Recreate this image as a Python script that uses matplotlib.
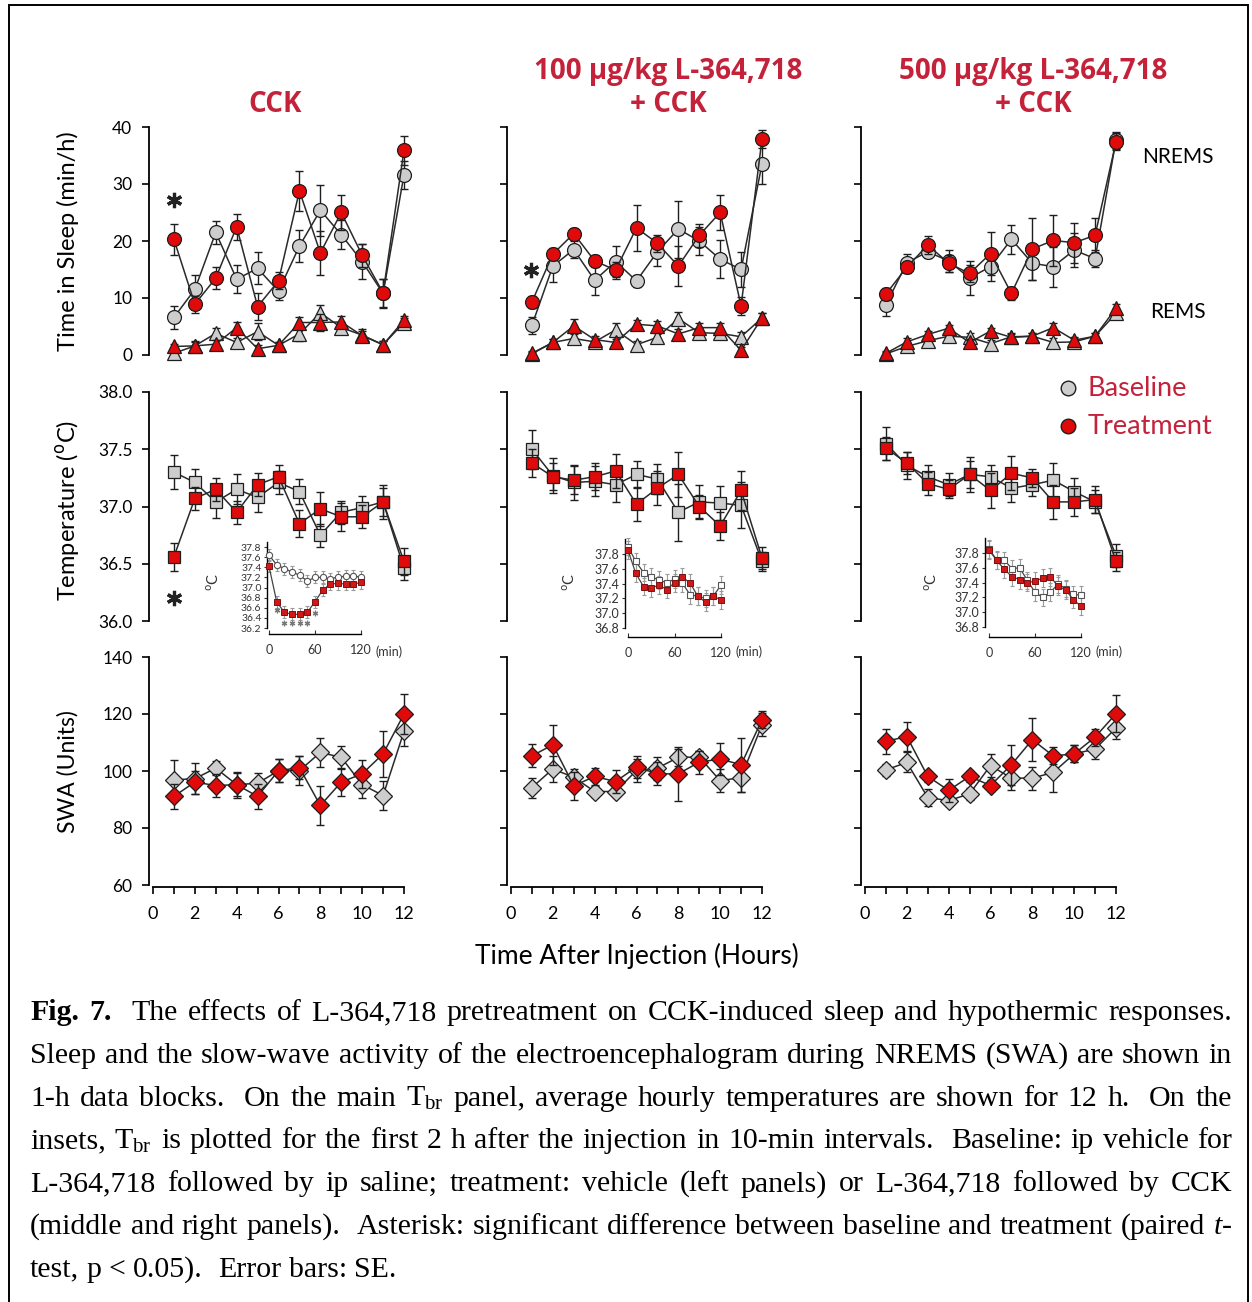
import numpy as np
import matplotlib
matplotlib.use('Agg')
import matplotlib.pyplot as plt
from matplotlib.lines import Line2D
from matplotlib.patches import Rectangle

plt.rcParams['font.family'] = ['Lato', 'DejaVu Sans']
plt.rcParams['mathtext.fontset'] = 'custom'
plt.rcParams['mathtext.rm'] = 'Liberation Serif'
plt.rcParams['mathtext.it'] = 'Liberation Serif:italic'

W, H = 1252, 1302
hours = np.arange(1, 13)
minutes = np.arange(0, 130, 10)

# ---------------- time in sleep (min/h) ----------------
cck_nrem_base = [6.6, 11.5, 21.5, 13.3, 15.2, 11.2, 19.1, 25.4, 21.1, 16.4, 10.8, 31.6]
cck_nrem_base_se = [2.0, 2.5, 2.0, 2.5, 2.8, 1.5, 2.8, 4.5, 2.5, 3.0, 2.5, 2.5]
cck_nrem_trt = [20.3, 8.9, 13.5, 22.5, 8.5, 13.0, 28.8, 17.9, 25.0, 17.5, 10.9, 35.9]
cck_nrem_trt_se = [2.7, 1.5, 2.0, 2.3, 2.3, 1.5, 3.5, 3.8, 3.0, 2.0, 2.5, 2.5]
cck_rem_base = [0.3, 1.6, 3.8, 2.2, 4.1, 1.7, 3.7, 7.4, 4.8, 3.5, 1.8, 5.7]
cck_rem_base_se = [0.5, 0.8, 1.0, 0.8, 1.5, 0.6, 1.2, 1.3, 1.0, 1.0, 0.6, 0.8]
cck_rem_trt = [1.5, 1.6, 1.9, 4.8, 1.1, 1.7, 5.7, 5.7, 5.8, 3.4, 1.8, 6.1]
cck_rem_trt_se = [0.5, 0.6, 0.8, 1.0, 0.6, 0.6, 1.0, 1.5, 1.0, 0.8, 0.6, 0.8]

l100_nrem_base = [5.2, 15.6, 18.5, 13.1, 16.4, 13.0, 18.1, 22.1, 20.0, 16.8, 15.0, 33.5]
l100_nrem_base_se = [1.5, 2.8, 1.5, 2.5, 2.8, 1.0, 2.5, 5.0, 2.5, 3.3, 3.0, 3.5]
l100_nrem_trt = [9.3, 17.7, 21.3, 16.5, 14.9, 22.3, 19.6, 15.6, 21.0, 25.0, 8.6, 37.9]
l100_nrem_trt_se = [1.0, 1.0, 1.0, 1.0, 1.5, 4.0, 1.5, 3.5, 2.0, 3.0, 1.5, 1.5]
l100_rem_base = [0.2, 2.2, 2.9, 2.3, 4.4, 1.8, 3.1, 6.4, 3.9, 3.8, 3.2, 6.5]
l100_rem_base_se = [0.4, 0.6, 0.8, 0.6, 1.2, 0.6, 0.8, 1.2, 0.8, 0.8, 0.8, 0.8]
l100_rem_trt = [0.3, 2.2, 5.1, 2.7, 2.2, 5.4, 5.1, 3.7, 4.8, 4.8, 0.8, 6.5]
l100_rem_trt_se = [0.4, 0.6, 1.2, 0.6, 0.6, 0.8, 0.8, 0.8, 0.8, 0.8, 0.6, 0.8]

l500_nrem_base = [8.8, 16.2, 18.1, 16.5, 13.5, 15.5, 20.3, 16.1, 15.5, 18.4, 16.9, 37.7]
l500_nrem_base_se = [2.0, 1.5, 1.0, 2.0, 3.0, 2.5, 2.5, 3.0, 3.5, 3.0, 1.5, 1.5]
l500_nrem_trt = [10.7, 15.4, 19.3, 16.1, 14.3, 17.8, 10.8, 18.6, 20.1, 19.7, 21.0, 37.4]
l500_nrem_trt_se = [1.0, 1.0, 1.5, 1.5, 1.5, 3.7, 1.2, 5.5, 4.5, 3.5, 3.0, 1.5]
l500_rem_base = [0.2, 1.5, 2.5, 3.3, 3.1, 2.0, 3.2, 3.3, 2.2, 2.3, 3.3, 7.3]
l500_rem_base_se = [0.4, 0.6, 0.6, 0.6, 0.8, 0.6, 0.6, 0.6, 0.8, 0.6, 0.6, 0.8]
l500_rem_trt = [0.3, 2.3, 3.6, 4.7, 2.2, 4.2, 3.1, 3.3, 4.8, 2.6, 3.3, 8.2]
l500_rem_trt_se = [0.4, 0.6, 0.6, 0.6, 0.6, 0.6, 0.6, 0.6, 0.8, 0.6, 0.6, 0.8]

# ---------------- brain temperature (hourly means) ----------------
cck_temp_base = [37.30, 37.21, 37.04, 37.15, 37.08, 37.21, 37.13, 36.75, 36.95, 36.99, 37.04, 36.46]
cck_temp_base_se = [0.15, 0.12, 0.14, 0.13, 0.13, 0.10, 0.11, 0.10, 0.10, 0.10, 0.15, 0.10]
cck_temp_trt = [36.56, 37.07, 37.15, 36.95, 37.19, 37.26, 36.85, 36.98, 36.91, 36.91, 37.04, 36.52]
cck_temp_trt_se = [0.12, 0.10, 0.10, 0.10, 0.10, 0.10, 0.12, 0.15, 0.12, 0.10, 0.12, 0.12]

l100_temp_base = [37.50, 37.27, 37.21, 37.22, 37.19, 37.28, 37.24, 36.95, 37.04, 37.03, 37.01, 36.52]
l100_temp_base_se = [0.17, 0.15, 0.15, 0.13, 0.15, 0.12, 0.13, 0.25, 0.15, 0.15, 0.20, 0.08]
l100_temp_trt = [37.38, 37.26, 37.23, 37.26, 37.31, 37.02, 37.16, 37.28, 37.00, 36.83, 37.14, 36.55]
l100_temp_trt_se = [0.12, 0.12, 0.12, 0.12, 0.15, 0.15, 0.15, 0.20, 0.10, 0.12, 0.17, 0.10]

l500_temp_base = [37.55, 37.36, 37.26, 37.19, 37.28, 37.26, 37.16, 37.19, 37.23, 37.13, 37.04, 36.57]
l500_temp_base_se = [0.14, 0.12, 0.10, 0.10, 0.15, 0.10, 0.12, 0.10, 0.15, 0.12, 0.10, 0.10]
l500_temp_trt = [37.51, 37.38, 37.20, 37.15, 37.28, 37.14, 37.29, 37.25, 37.04, 37.04, 37.06, 36.52]
l500_temp_trt_se = [0.10, 0.10, 0.10, 0.08, 0.12, 0.15, 0.15, 0.08, 0.15, 0.12, 0.12, 0.08]

# ---------------- inset: first 2 h in 10-min blocks ----------------
cck_ins_base = [37.64, 37.45, 37.37, 37.31, 37.24, 37.13, 37.20, 37.20, 37.17, 37.21, 37.22, 37.22, 37.21]
cck_ins_trt = [37.42, 36.72, 36.51, 36.47, 36.47, 36.51, 36.72, 36.95, 37.07, 37.08, 37.07, 37.07, 37.10]
l100_ins_base = [37.90, 37.70, 37.55, 37.49, 37.45, 37.41, 37.46, 37.41, 37.25, 37.23, 37.20, 37.23, 37.38]
l100_ins_trt = [37.85, 37.54, 37.36, 37.34, 37.38, 37.32, 37.41, 37.49, 37.41, 37.23, 37.15, 37.23, 37.18]
l500_ins_base = [37.85, 37.71, 37.70, 37.59, 37.60, 37.43, 37.27, 37.20, 37.27, 37.38, 37.32, 37.24, 37.23]
l500_ins_trt = [37.84, 37.70, 37.58, 37.48, 37.44, 37.40, 37.42, 37.46, 37.48, 37.35, 37.30, 37.17, 37.08]
ins_se = [0.12] * 13
cck_ins_sig = [10, 20, 30, 40, 50, 60]
cck_ins_sig_y = [36.56, 36.30, 36.30, 36.30, 36.30, 36.50]

# ---------------- SWA (units) ----------------
cck_swa_base = [96.9, 97.3, 101.0, 95.2, 95.7, 100.1, 100.1, 106.5, 104.8, 95.2, 91.4, 113.9]
cck_swa_base_se = [7.0, 5.5, 2.5, 4.5, 3.5, 4.0, 5.0, 5.0, 4.0, 4.5, 5.0, 5.0]
cck_swa_trt = [91.1, 96.1, 94.9, 95.2, 91.1, 100.1, 101.2, 87.9, 96.1, 99.0, 106.0, 120.0]
cck_swa_trt_se = [4.5, 4.0, 4.0, 4.0, 4.5, 4.0, 4.0, 7.0, 5.0, 5.0, 8.0, 7.0]

l100_swa_base = [94.2, 100.7, 97.8, 92.8, 92.8, 100.2, 101.0, 104.8, 104.9, 96.6, 97.7, 116.2]
l100_swa_base_se = [3.5, 4.5, 3.0, 2.0, 2.0, 4.0, 4.0, 3.0, 2.0, 4.0, 5.0, 4.0]
l100_swa_trt = [105.3, 109.2, 94.8, 98.1, 96.3, 101.4, 99.0, 99.0, 103.1, 104.2, 102.2, 118.0]
l100_swa_trt_se = [4.0, 7.0, 5.0, 3.0, 4.0, 4.0, 4.0, 9.5, 4.0, 5.5, 9.5, 3.0]

l500_swa_base = [100.4, 103.0, 90.7, 89.6, 92.0, 101.9, 97.5, 97.5, 99.5, 106.0, 107.7, 115.1]
l500_swa_base_se = [2.0, 3.5, 3.0, 2.0, 2.0, 4.0, 4.0, 4.0, 7.0, 3.0, 3.5, 4.0]
l500_swa_trt = [110.4, 112.1, 98.1, 93.2, 98.1, 94.9, 102.2, 111.0, 105.3, 106.0, 111.9, 120.1]
l500_swa_trt_se = [4.5, 5.0, 2.0, 4.0, 2.0, 2.0, 7.0, 7.5, 3.0, 3.0, 3.0, 6.5]

titles = ['CCK', '100 µg/kg L-364,718\n+ CCK', '500 µg/kg L-364,718\n+ CCK']

caption_lines = [
    "Fig. 7.  The effects of L-364,718 pretreatment on CCK-induced sleep and hypothermic responses.",
    "Sleep and the slow-wave activity of the electroencephalogram during NREMS (SWA) are shown in",
    "1-h data blocks.  On the main T$_\\mathrm{br}$ panel, average hourly temperatures are shown for 12 h.  On the",
    "insets, T$_\\mathrm{br}$ is plotted for the first 2 h after the injection in 10-min intervals.  Baseline: ip vehicle for",
    "L-364,718 followed by ip saline; treatment: vehicle (left panels) or L-364,718 followed by CCK",
    "(middle and right panels).  Asterisk: significant difference between baseline and treatment (paired $\\mathit{t}$-",
    "test, p < 0.05).  Error bars: SE.",
]

RED = '#e00a0a'
GRAY = '#cdcdcd'
EDGE = '#1e1e1e'
TITLE_RED = '#c4223a'

fig = plt.figure(figsize=(W / 100, H / 100), dpi=100)


def px_axes(x, top, w, h):
    return fig.add_axes([x / W, 1 - (top + h) / H, w / W, h / H])


def pts(px):
    return px * 72 / 100


def series(ax, y, err, marker, face, ms, z):
    ax.errorbar(hours, y, yerr=err, fmt='none', ecolor=EDGE, elinewidth=1.0,
                capsize=3, capthick=1.0, zorder=z, clip_on=False)
    ax.plot(hours, y, '-', color='#2a2a2a', lw=1.1, marker=marker, ms=ms,
            mfc=face, mec=EDGE, mew=0.9, zorder=z + 0.5, clip_on=False)


def style_main(ax, labels, bottom):
    ax.patch.set_alpha(0)
    for s in ['top', 'right']:
        ax.spines[s].set_visible(False)
    ax.spines['left'].set_position(('outward', pts(4)))
    ax.spines['left'].set_linewidth(1.3)
    ax.tick_params(axis='y', direction='out', length=5, width=1.2,
                   labelsize=12.5, pad=7, labelleft=labels)
    if bottom:
        ax.spines['bottom'].set_position(('outward', pts(2)))
        ax.spines['bottom'].set_linewidth(1.3)
        ax.set_xticks(range(13))
        ax.set_xticklabels([str(i) if i % 2 == 0 else '' for i in range(13)])
        ax.tick_params(axis='x', direction='out', length=5, width=1.2,
                       labelsize=13, pad=8.5)
    else:
        ax.spines['bottom'].set_visible(False)
        ax.tick_params(axis='x', bottom=False, labelbottom=False)
    ax.set_xlim(0, 12)


col_x = [153, 511, 865]
col_w = 251

sleep_sets = [
    (cck_nrem_base, cck_nrem_base_se, cck_nrem_trt, cck_nrem_trt_se,
     cck_rem_base, cck_rem_base_se, cck_rem_trt, cck_rem_trt_se),
    (l100_nrem_base, l100_nrem_base_se, l100_nrem_trt, l100_nrem_trt_se,
     l100_rem_base, l100_rem_base_se, l100_rem_trt, l100_rem_trt_se),
    (l500_nrem_base, l500_nrem_base_se, l500_nrem_trt, l500_nrem_trt_se,
     l500_rem_base, l500_rem_base_se, l500_rem_trt, l500_rem_trt_se),
]
temp_sets = [
    (cck_temp_base, cck_temp_base_se, cck_temp_trt, cck_temp_trt_se),
    (l100_temp_base, l100_temp_base_se, l100_temp_trt, l100_temp_trt_se),
    (l500_temp_base, l500_temp_base_se, l500_temp_trt, l500_temp_trt_se),
]
swa_sets = [
    (cck_swa_base, cck_swa_base_se, cck_swa_trt, cck_swa_trt_se),
    (l100_swa_base, l100_swa_base_se, l100_swa_trt, l100_swa_trt_se),
    (l500_swa_base, l500_swa_base_se, l500_swa_trt, l500_swa_trt_se),
]
inset_sets = [(cck_ins_base, cck_ins_trt), (l100_ins_base, l100_ins_trt),
              (l500_ins_base, l500_ins_trt)]

# inset geometry in pixels: x of 0 min, width, y of lower limit, px per degree
inset_geo = [
    dict(x=269, w=92, y0=628, scale=50.6, lo=36.2, hi=37.9, ticks=np.arange(36.2, 37.81, 0.2),
         lsize=7.5, loff=2, boff=6, circ=True, ylab=214),
    dict(x=628, w=93, y0=628, scale=74.0, lo=36.8, hi=38.0, ticks=np.arange(36.8, 37.81, 0.2),
         lsize=9, loff=3, boff=9, circ=False, ylab=570),
    dict(x=989, w=92, y0=627, scale=74.0, lo=36.8, hi=38.0, ticks=np.arange(36.8, 37.81, 0.2),
         lsize=9, loff=4, boff=10, circ=False, ylab=932),
]

for c in range(3):
    # sleep
    ax = px_axes(col_x[c], 127, col_w, 228)
    nb, nbe, nt, nte, rb, rbe, rt, rte = sleep_sets[c]
    series(ax, rb, rbe, '^', GRAY, 9.5, 2)
    series(ax, rt, rte, '^', RED, 9.5, 3)
    series(ax, nb, nbe, 'o', GRAY, 10, 4)
    series(ax, nt, nte, 'o', RED, 10, 5)
    ax.set_ylim(0, 40)
    ax.set_yticks([0, 10, 20, 30, 40])
    style_main(ax, c == 0, False)
    if c == 0:
        ax.plot([1], [27.2], marker=(6, 2, 0), ms=11, mew=2.3, color='#222', clip_on=False)
    if c == 1:
        ax.plot([0.95], [14.9], marker=(6, 2, 0), ms=11, mew=2.3, color='#222', clip_on=False)

    # temperature
    ax = px_axes(col_x[c], 392, col_w, 229)
    tb, tbe, tt, tte = temp_sets[c]
    series(ax, tb, tbe, 's', GRAY, 9, 4)
    series(ax, tt, tte, 's', RED, 9, 5)
    ax.set_ylim(36.0, 38.0)
    ax.set_yticks([36.0, 36.5, 37.0, 37.5, 38.0])
    ax.set_yticklabels(['36.0', '36.5', '37.0', '37.5', '38.0'])
    style_main(ax, c == 0, False)
    if c == 0:
        ax.plot([1], [36.2], marker=(6, 2, 0), ms=11, mew=2.3, color='#222', clip_on=False)

    # inset
    g = inset_geo[c]
    top = g['y0'] - (g['hi'] - g['lo']) * g['scale']
    ia = px_axes(g['x'], top, g['w'], g['y0'] - top)
    ib, it = inset_sets[c]
    for vals in (ib, it):
        ia.errorbar(minutes, vals, yerr=ins_se, fmt='none', ecolor='#9a9a9a', elinewidth=0.8,
                    capsize=1.5, capthick=0.8, zorder=2, clip_on=False)
    ia.plot(minutes, ib, '-', color='#444', lw=0.9, marker='o' if g['circ'] else 's',
            ms=4.5, mfc='white', mec='#555', mew=0.8, zorder=3, clip_on=False)
    ia.plot(minutes, it, '-', color='#444', lw=0.9, marker='s', ms=4.5,
            mfc='#d01818', mec='#7a1010', mew=0.7, zorder=4, clip_on=False)
    if c == 0:
        ia.plot(cck_ins_sig, cck_ins_sig_y, ls='none', marker=(6, 2, 0), ms=4, mew=0.9,
                color='#777', clip_on=False)
    ia.set_xlim(0, 120)
    ia.set_ylim(g['lo'], g['hi'])
    ia.patch.set_alpha(0)
    for s in ['top', 'right']:
        ia.spines[s].set_visible(False)
    ia.spines['left'].set_position(('outward', pts(g['loff'])))
    ia.spines['bottom'].set_position(('outward', pts(g['boff'])))
    for s in ['left', 'bottom']:
        ia.spines[s].set_linewidth(1.0)
    ia.set_yticks(g['ticks'])
    ia.set_yticklabels(['%.1f' % v for v in g['ticks']])
    ia.set_xticks([0, 60, 120])
    ia.set_xticklabels(['0', '60', '120'])
    ia.tick_params(axis='y', direction='out', length=2.5, width=0.8,
                   labelsize=g['lsize'], pad=1.5, colors='#333')
    ia.tick_params(axis='x', direction='in', length=3, width=0.8,
                   labelsize=9, pad=7, colors='#333')
    fig.text((g['x'] + g['w'] + 15) / W, 1 - 652 / H, '(min)', fontsize=9,
             color='#333', va='center', ha='left')
    fig.text(g['ylab'] / W, 1 - 582 / H, '$^{\\rm o}$C', rotation=90,
             fontsize=10.5, color='#333', ha='center', va='center',
             math_fontfamily='dejavusans')

    # SWA
    ax = px_axes(col_x[c], 657, col_w, 228)
    sb, sbe, st, ste = swa_sets[c]
    series(ax, sb, sbe, 'D', GRAY, 9, 4)
    series(ax, st, ste, 'D', RED, 9, 5)
    ax.set_ylim(60, 140)
    ax.set_yticks([60, 80, 100, 120, 140])
    style_main(ax, c == 0, True)

# column titles
fig.text(275 / W, 1 - 105 / H, titles[0], fontsize=20, weight='bold', color=TITLE_RED,
         family='Open Sans', ha='center', va='center')
for cx, t in zip([668, 1033], titles[1:]):
    fig.text(cx / W, 1 - 88 / H, t, fontsize=20, weight='bold', color=TITLE_RED,
             family='Open Sans', ha='center', va='center', linespacing=1.2)

# axis labels
fig.text(68 / W, 1 - 241 / H, 'Time in Sleep (min/h)', rotation=90, fontsize=17,
         ha='center', va='center')
fig.text(68 / W, 1 - 510 / H, 'Temperature ($^{\\rm o}$C)', rotation=90, fontsize=17,
         ha='center', va='center', math_fontfamily='dejavusans')
fig.text(68 / W, 1 - 772 / H, 'SWA (Units)', rotation=90, fontsize=16.5,
         ha='center', va='center')
fig.text(637 / W, 1 - 956 / H, 'Time After Injection (Hours)', fontsize=19,
         ha='center', va='center')

# sleep state labels
fig.text(1142 / W, 1 - 157 / H, 'NREMS', fontsize=15, ha='left', va='center')
fig.text(1150 / W, 1 - 312 / H, 'REMS', fontsize=15, ha='left', va='center')

# legend
for yy, face, lab in [(388, GRAY, 'Baseline'), (426, RED, 'Treatment')]:
    fig.add_artist(Line2D([1068 / W], [1 - yy / H], transform=fig.transFigure,
                          marker='o', ms=10.5, mfc=face, mec=EDGE, mew=1.0, ls='none'))
    fig.text(1088 / W, 1 - yy / H, lab, fontsize=19.5, color=TITLE_RED,
             ha='left', va='center')

# frame around the figure block
fig.add_artist(Rectangle((9 / W, -0.02), (1248 - 9) / W, 1.02 - 5 / H,
                         transform=fig.transFigure, fill=False, lw=1.4, ec='black'))


# caption, justified word by word
def split_words(line):
    words, gaps = [], []
    n_sp = 1
    for p in line.split(' '):
        if p == '':
            n_sp += 1
            continue
        if words:
            gaps.append(n_sp)
        words.append(p)
        n_sp = 1
    return words, gaps


cap_fs = 21.5
cap_left, cap_right = 30, 1232
cap_base0, cap_step = 1020, 42.8
renderer = fig.canvas.get_renderer()
for i, line in enumerate(caption_lines):
    yf = 1 - (cap_base0 + i * cap_step) / H
    words, gaps = split_words(line)
    arts = []
    for j, w in enumerate(words):
        bold = i == 0 and j < 2
        arts.append(fig.text(0, yf, w, fontsize=cap_fs, family='Liberation Serif',
                             weight='bold' if bold else 'normal', ha='left', va='baseline'))
    widths = [a.get_window_extent(renderer).width for a in arts]
    if i < len(caption_lines) - 1:
        unit = (cap_right - cap_left - sum(widths)) / sum(gaps)
    else:
        unit = cap_fs * 100 / 72 * 0.25
    x = cap_left
    for j, a in enumerate(arts):
        a.set_x(x / W)
        if j < len(gaps):
            x += widths[j] + gaps[j] * unit

fig.savefig('out.png', dpi=100)
